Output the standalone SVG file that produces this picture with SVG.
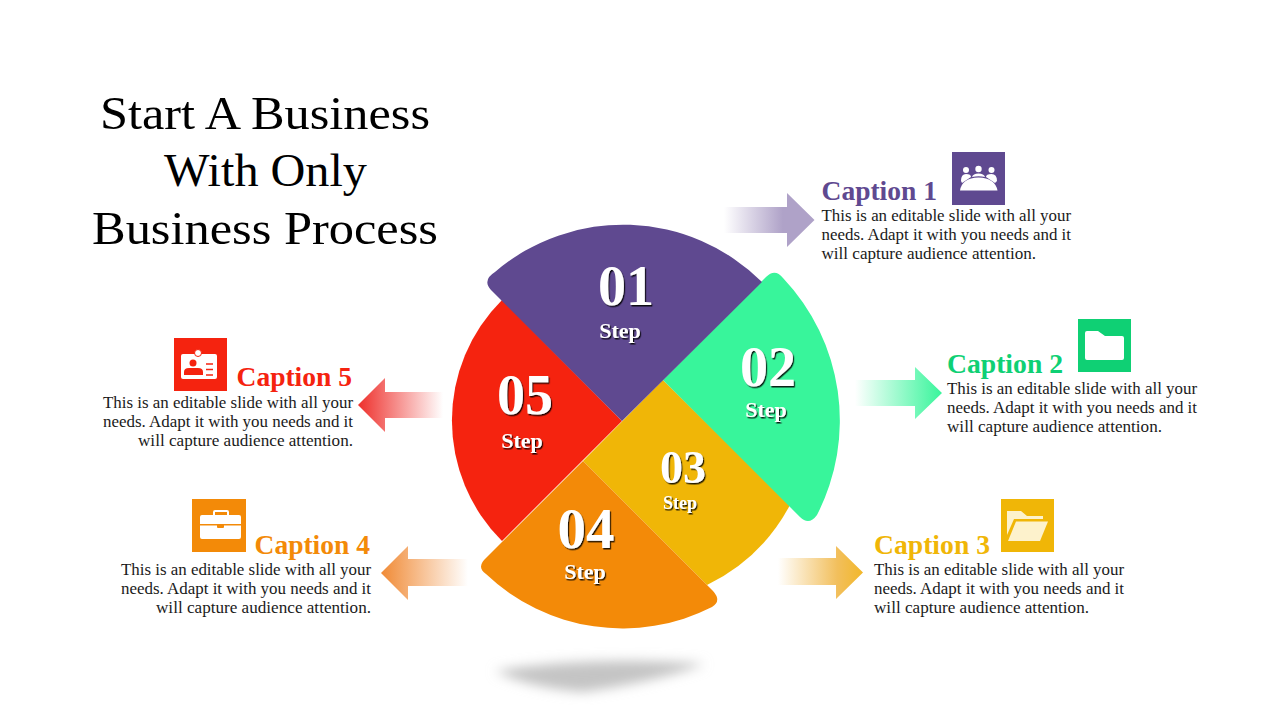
<svg xmlns="http://www.w3.org/2000/svg" width="1280" height="720" viewBox="0 0 1280 720">
<style>
text{font-family:"Liberation Serif","Times New Roman",serif}
.title{font-size:47px;fill:#000}
.cap{font-size:27px;font-weight:bold}
.body{font-size:16px;fill:#1a1a1a}
.num{font-size:56px;font-weight:bold;fill:#fff;text-anchor:middle;filter:url(#ts)}
.stp{font-size:22px;font-weight:bold;fill:#fff;text-anchor:middle;filter:url(#ts)}
.w{fill:#fff}
</style>
<defs>
<filter id="ts" x="-20%" y="-20%" width="140%" height="140%"><feDropShadow dx="1.2" dy="1.5" stdDeviation="0.7" flood-color="#000" flood-opacity="0.85"/></filter>
<filter id="blur" x="-20%" y="-60%" width="140%" height="220%"><feGaussianBlur stdDeviation="6"/></filter>
<linearGradient id="g1" x1="0" x2="1" y1="0" y2="0"><stop offset="0" stop-color="#fff"/><stop offset="0.65" stop-color="#AFA2C8"/><stop offset="1" stop-color="#AFA2C8"/></linearGradient>
<linearGradient id="g2" x1="0" x2="1" y1="0" y2="0"><stop offset="0" stop-color="#fff"/><stop offset="1" stop-color="#38F59B"/></linearGradient>
<linearGradient id="g3" x1="0" x2="1" y1="0" y2="0"><stop offset="0" stop-color="#fff"/><stop offset="0.7" stop-color="#F2BF5C"/><stop offset="1" stop-color="#F2B72A"/></linearGradient>
<linearGradient id="g4" x1="1" x2="0" y1="0" y2="0"><stop offset="0" stop-color="#fff"/><stop offset="1" stop-color="#F08A35"/></linearGradient>
<linearGradient id="g5" x1="1" x2="0" y1="0" y2="0"><stop offset="0" stop-color="#fff"/><stop offset="1" stop-color="#EE2F2B"/></linearGradient>
</defs>
<rect width="1280" height="720" fill="#fff"/>
<g id="title">
<text class="title" x="100" y="129" textLength="330" lengthAdjust="spacingAndGlyphs">Start A Business</text>
<text class="title" x="164" y="186" textLength="203" lengthAdjust="spacingAndGlyphs">With Only</text>
<text class="title" x="92" y="244" textLength="346" lengthAdjust="spacingAndGlyphs">Business Process</text>
</g>
<path id="shadow" d="M495,671 Q590,655 705,664 Q655,682 583,692 Q530,688 495,671Z" fill="#c4c4c4" filter="url(#blur)"/>
<g id="connectors">
<path d="M724,207H787V193L814.500,220L787,247V233H724Z" fill="url(#g1)"/>
<path d="M855,380H915V367L942,393L915,419V406H855Z" fill="url(#g2)"/>
<path d="M778,558H836V546L863,572.500L836,599V585H778Z" fill="url(#g3)"/>
<path d="M468,559H408V546L381,573L408,600V586H468Z" fill="url(#g4)"/>
<path d="M443,392H385V378L358,405L385,432V418H443Z" fill="url(#g5)"/>
</g>
<g id="node-5"><path d="M622,421L502,300A170,170 0 0 0 502,541Z" fill="#F5230F"/></g>
<g id="node-3"><path d="M663,380L583,461L707,585A186,186 0 0 0 790,505Z" fill="#F0B607"/></g>
<g id="node-2"><path d="M663,380L766,277Q775,268 783,278A207,207 0 0 1 817,515Q809,526 800,517Z" fill="#38F59B"/></g>
<g id="node-1"><path d="M622,421L491,290Q482,280 495,272A197,197 0 0 1 762,282Z" fill="#5F4990"/></g>
<g id="node-4"><path d="M583,461L486,558Q476,567 486,574A198,198 0 0 0 712,607Q722,601 713,591Z" fill="#F38A08"/></g>
<g id="labels">
<text class="num" x="626" y="305">01</text><text class="stp" x="620" y="338">Step</text>
<text class="num" x="768" y="386">02</text><text class="stp" x="766" y="417">Step</text>
<text class="num" x="683" y="483" style="font-size:46px">03</text><text class="stp" x="680" y="509" style="font-size:18px">Step</text>
<text class="num" x="586" y="548" style="font-size:57px">04</text><text class="stp" x="585" y="579">Step</text>
<text class="num" x="525" y="414">05</text><text class="stp" x="522" y="448">Step</text>
</g>
<g id="caption-1">
<text class="cap" x="821.500" y="199.500" textLength="115.500" lengthAdjust="spacingAndGlyphs" fill="#5F4990">Caption 1</text>
<text class="body" x="821.500" y="221" textLength="249.500" lengthAdjust="spacingAndGlyphs">This is an editable slide with all your</text>
<text class="body" x="821.500" y="240" textLength="249.500" lengthAdjust="spacingAndGlyphs">needs. Adapt it with you needs and it</text>
<text class="body" x="821.500" y="259" textLength="214.500" lengthAdjust="spacingAndGlyphs">will capture audience attention.</text>
<rect x="952" y="152" width="53" height="53" fill="#5F4990"/>
<g class="w"><circle cx="966" cy="170" r="3"/><circle cx="978.500" cy="169" r="3.200"/><circle cx="991.500" cy="170" r="3"/>
<path d="M961,181Q961,174 966,174Q971,174 971,177L962,183Z"/><path d="M986,177Q986,174 991.500,174Q997,174 997,181L995,183Z"/><path d="M972,177Q973,173.500 978.500,173.500Q984,173.500 985,177Q979,175.500 972,177Z"/>
<path d="M960,190.500Q962,178 978.500,177.500Q995,178 997.500,190.500Z"/></g>
</g>
<g id="caption-2">
<text class="cap" x="947" y="372.500" textLength="116" lengthAdjust="spacingAndGlyphs" fill="#0FD074">Caption 2</text>
<text class="body" x="947" y="394" textLength="250" lengthAdjust="spacingAndGlyphs">This is an editable slide with all your</text>
<text class="body" x="947" y="413" textLength="250" lengthAdjust="spacingAndGlyphs">needs. Adapt it with you needs and it</text>
<text class="body" x="947" y="432" textLength="215" lengthAdjust="spacingAndGlyphs">will capture audience attention.</text>
<rect x="1078" y="319" width="53" height="53" fill="#0FD074"/>
<path class="w" d="M1085,333Q1085,331 1087,331L1098,331L1105,336L1122,336Q1124,336 1124,338L1124,358Q1124,360 1122,360L1087,360Q1085,360 1085,358Z"/>
</g>
<g id="caption-3">
<text class="cap" x="874" y="553.500" textLength="116" lengthAdjust="spacingAndGlyphs" fill="#F0B607">Caption 3</text>
<text class="body" x="874" y="575" textLength="250" lengthAdjust="spacingAndGlyphs">This is an editable slide with all your</text>
<text class="body" x="874" y="594" textLength="250" lengthAdjust="spacingAndGlyphs">needs. Adapt it with you needs and it</text>
<text class="body" x="874" y="613" textLength="215" lengthAdjust="spacingAndGlyphs">will capture audience attention.</text>
<rect x="1001" y="499" width="53" height="53" fill="#F0B607"/>
<path d="M1007,511L1021,511L1027,516L1043,516L1043,519L1014,519L1007,535Z" fill="#FDF2CC"/>
<path d="M1016,521.500L1048,521.500L1040,541L1008,541Z" fill="#FDF2CC"/>
</g>
<g id="caption-4">
<text class="cap" x="254.500" y="553.500" textLength="115.500" lengthAdjust="spacingAndGlyphs" fill="#F38A08">Caption 4</text>
<text class="body" x="121" y="575" textLength="250" lengthAdjust="spacingAndGlyphs">This is an editable slide with all your</text>
<text class="body" x="121" y="594" textLength="250" lengthAdjust="spacingAndGlyphs">needs. Adapt it with you needs and it</text>
<text class="body" x="156" y="613" textLength="215" lengthAdjust="spacingAndGlyphs">will capture audience attention.</text>
<rect x="192" y="499" width="54" height="53" fill="#F38A08"/>
<path d="M214,515V512Q214,511 215,511H227Q228,511 228,512V515" fill="none" stroke="#fff" stroke-width="2"/>
<path class="w" d="M200,517Q200,515 202,515H239Q241,515 241,517V524H200Z"/>
<path class="w" d="M200,525.500H217V527Q217,528 218,528H223Q224,528 224,527V525.500H241V537Q241,539 239,539H202Q200,539 200,537Z"/>
</g>
<g id="caption-5">
<text class="cap" x="236.500" y="385.500" textLength="115.500" lengthAdjust="spacingAndGlyphs" fill="#F5230F">Caption 5</text>
<text class="body" x="103" y="408" textLength="250" lengthAdjust="spacingAndGlyphs">This is an editable slide with all your</text>
<text class="body" x="103" y="427" textLength="250" lengthAdjust="spacingAndGlyphs">needs. Adapt it with you needs and it</text>
<text class="body" x="138" y="446" textLength="215" lengthAdjust="spacingAndGlyphs">will capture audience attention.</text>
<rect x="174" y="338" width="53" height="53" fill="#F5230F"/>
<rect class="w" x="181" y="354" width="36" height="25" rx="2"/>
<circle cx="198" cy="353" r="3.500" fill="#fff" stroke="#F5230F" stroke-width="1"/>
<circle cx="193" cy="363" r="3.500" fill="#F5230F"/>
<path d="M184,375V372Q184,368 189,368H198Q203,368 203,372V375Z" fill="#F5230F"/>
<path d="M206,364H213M206,369.500H213M206,375H213" stroke="#F5230F" stroke-width="1.300" fill="none"/>
</g>
</svg>
